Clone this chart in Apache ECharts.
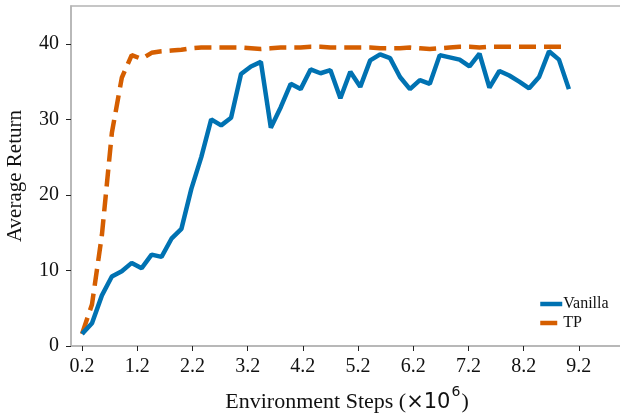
<!DOCTYPE html>
<html>
<head>
<meta charset="utf-8">
<script src="https://cdn.jsdelivr.net/npm/echarts@6/dist/echarts.min.js"></script>
<style>
html,body{margin:0;padding:0;background:#fff;}
#chart{width:620px;height:414px;}
</style>
</head>
<body>
<div id="chart"></div>
<script>
var steps = [0.2, 0.38, 0.56, 0.74, 0.92, 1.1, 1.28, 1.46, 1.64, 1.82,
  2.0, 2.18, 2.36, 2.54, 2.72, 2.9, 3.08, 3.26, 3.44, 3.62,
  3.8, 3.98, 4.16, 4.34, 4.52, 4.7, 4.88, 5.06, 5.24, 5.42,
  5.6, 5.78, 5.96, 6.14, 6.32, 6.5, 6.68, 6.86, 7.04, 7.22,
  7.4, 7.58, 7.76, 7.94, 8.12, 8.3, 8.48, 8.66, 8.84, 9.02];
var vanilla = [1.6, 3.0, 6.7, 9.2, 9.9, 11.0, 10.3, 12.1, 11.8, 14.2,
  15.5, 20.8, 25.0, 30.0, 29.2, 30.2, 36.0, 37.0, 37.6, 28.9,
  31.6, 34.7, 34.0, 36.6, 36.1, 36.5, 32.8, 36.3, 34.3, 37.8,
  38.6, 38.1, 35.6, 34.0, 35.2, 34.7, 38.5, 38.2, 37.9, 37.0,
  38.7, 34.2, 36.4, 35.8, 35.0, 34.1, 35.6, 39.0, 37.9, 34.0];
var tp = [1.6, 5.5, 14.7, 28.2, 35.5, 38.5, 38.0, 38.8, 39.0, 39.1,
  39.2, 39.4, 39.5, 39.5, 39.5, 39.5, 39.5, 39.4, 39.3, 39.4,
  39.5, 39.5, 39.5, 39.6, 39.6, 39.5, 39.5, 39.5, 39.5, 39.5,
  39.4, 39.4, 39.4, 39.5, 39.4, 39.3, 39.4, 39.5, 39.6, 39.6,
  39.5, 39.6, 39.6, 39.6, 39.6, 39.6, 39.6, 39.6, 39.6, 39.6];
var xTicks = [0.2, 1.2, 2.2, 3.2, 4.2, 5.2, 6.2, 7.2, 8.2, 9.2];
var yTicks = [0, 10, 20, 30, 40];

function pairs(xs, ys) { return xs.map(function (x, i) { return [x, ys[i]]; }); }

var FONT = 'Liberation Serif';
var chart = echarts.init(document.getElementById('chart'), null, {renderer: 'canvas'});
chart.setOption({
  animation: false,
  backgroundColor: '#ffffff',
  grid: {left: 71, top: 6, width: 552, bottom: 68, show: true, borderColor: '#b4b4b4', borderWidth: 1.5,
    backgroundColor: 'transparent', outerBoundsMode: 'none', containLabel: false},
  xAxis: {
    type: 'value', min: 0, max: 10,
    name: '{a|Environment Steps (}{b|×10}{c|6}{a|)}', nameLocation: 'middle', nameGap: 39,
    nameTextStyle: {fontFamily: FONT, fontSize: 22, color: '#111',
      rich: {
        a: {fontFamily: FONT, fontSize: 22, color: '#111', lineHeight: 28, verticalAlign: 'bottom'},
        b: {fontFamily: 'DejaVu Sans', fontSize: 21, color: '#111', lineHeight: 28, verticalAlign: 'bottom'},
        c: {fontFamily: 'DejaVu Sans', fontSize: 14, color: '#111', lineHeight: 16, verticalAlign: 'top', padding: [0, 1, 0, 1]}
      }},
    axisLine: {show: true, lineStyle: {color: '#b4b4b4', width: 1.5}},
    axisTick: {show: true, customValues: xTicks, length: 5, lineStyle: {color: '#222', width: 1}},
    axisLabel: {customValues: xTicks, fontFamily: FONT, fontSize: 20, color: '#111', margin: 11,
      formatter: function (v) { return v.toFixed(1); }},
    splitLine: {show: false}
  },
  yAxis: {
    type: 'value', min: 0, max: 45,
    name: 'Average Return', nameLocation: 'middle', nameGap: 45, nameRotate: 90,
    nameTextStyle: {fontFamily: FONT, fontSize: 21, color: '#111'},
    axisLine: {show: true, lineStyle: {color: '#b4b4b4', width: 1.5}},
    axisTick: {show: true, customValues: yTicks, length: 5, lineStyle: {color: '#222', width: 1}},
    axisLabel: {customValues: yTicks, fontFamily: FONT, fontSize: 20, color: '#111', margin: 12},
    splitLine: {show: false}
  },
  legend: {
    orient: 'vertical', left: 538, top: 296, padding: 0, itemWidth: 22, itemHeight: 14, itemGap: 3,
    itemStyle: {opacity: 0},
    lineStyle: {width: 4.5},
    textStyle: {fontFamily: FONT, fontSize: 16, color: '#111', padding: [0, 0, 0, -4]},
    data: ['Vanilla', 'TP']
  },
  series: [
    {name: 'Vanilla', type: 'line', data: pairs(steps, vanilla), symbol: 'none',
      lineStyle: {color: '#0072B2', width: 4.5}, itemStyle: {color: '#0072B2'}, z: 3},
    {name: 'TP', type: 'line', data: pairs(steps, tp), symbol: 'none',
      lineStyle: {color: '#D55E00', width: 4.5, type: [17, 8]}, itemStyle: {color: '#D55E00'}, z: 2}
  ]
});
</script>
</body>
</html>
